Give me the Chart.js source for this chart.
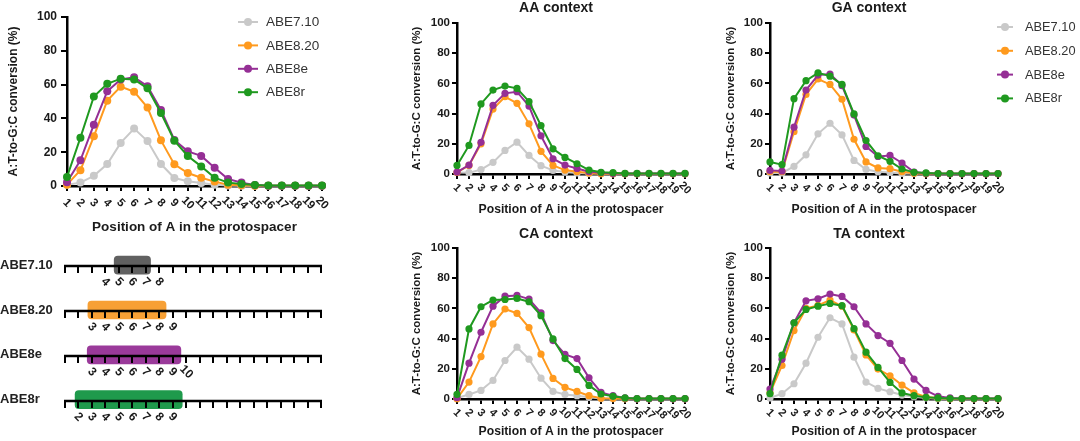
<!DOCTYPE html>
<html>
<head>
<meta charset="utf-8">
<script src="https://cdn.jsdelivr.net/npm/chart.js@4.4.1/dist/chart.umd.min.js"></script>
<style>
  body { margin: 0; background: #fff; width: 1080px; height: 441px; position: relative; overflow: hidden; }
  .box { position: absolute; }
  canvas { display: block; }
</style>
</head>
<body>
<div class="box" style="left:0px;top:0px"><canvas id="pooled" width="330" height="240"></canvas></div>
<div class="box" style="left:0px;top:232px"><canvas id="windows" width="328" height="209"></canvas></div>
<div class="box" style="left:405px;top:0px"><canvas id="aa" width="304" height="220"></canvas></div>
<div class="box" style="left:720px;top:0px"><canvas id="ga" width="360" height="220"></canvas></div>
<div class="box" style="left:405px;top:225px"><canvas id="ca" width="304" height="216"></canvas></div>
<div class="box" style="left:720px;top:225px"><canvas id="ta" width="360" height="216"></canvas></div>
<script>
// positions 1..20 in the protospacer
const positions = [1, 2, 3, 4, 5, 6, 7, 8, 9, 10, 11, 12, 13, 14, 15, 16, 17, 18, 19, 20];
const positionLabels = ['1', '2', '3', '4', '5', '6', '7', '8', '9', '10', '11', '12', '13', '14', '15', '16', '17', '18', '19', '20'];
const seriesNames = ['ABE7.10', 'ABE8.20', 'ABE8e', 'ABE8r'];
const seriesColors = ['#c9c9c9', '#ff9a1e', '#952f95', '#1f991f'];

// all A positions pooled
const pooledABE710 = [0.8, 2, 6, 13, 25.5, 34, 26.6, 13, 4.7, 2.8, 1.8, 0.8, 0.3, 0.2, 0.1, 0.1, 0.1, 0.1, 0.1, 0.1];
const pooledABE820 = [0.8, 9.3, 29.4, 50.5, 58.8, 55.8, 46.4, 27, 12.8, 7.7, 4.9, 2.6, 0.8, 0.4, 0.2, 0.2, 0.2, 0.1, 0.1, 0.1];
const pooledABE8e = [2.2, 15.2, 36.3, 56, 63, 64.3, 59, 45, 27.2, 20.5, 17.8, 10.8, 4.1, 2, 0.6, 0.2, 0.2, 0.2, 0.2, 0.2];
const pooledABE8r = [5.3, 28.6, 53, 60.5, 63.5, 63, 57.8, 43.2, 26.8, 17.8, 11.6, 4.9, 2, 1.2, 0.6, 0.3, 0.3, 0.3, 0.3, 0.3];

// AA context
const aaABE710 = [1, 0.9, 2.9, 7.7, 15.6, 21.1, 12.3, 5.5, 2.4, 1.3, 0.7, 0.3, 0.3, 0.2, 0.2, 0.2, 0.2, 0.2, 0.2, 0.2];
const aaABE820 = [1, 5.7, 20, 43, 51.2, 46.8, 33.2, 15, 5.7, 2.6, 1.5, 0.7, 0.2, 0.2, 0.2, 0.2, 0.2, 0.2, 0.2, 0.2];
const aaABE8e = [1.3, 5.9, 21, 45.5, 53.4, 54.5, 45, 25.3, 10.1, 5.9, 3.7, 1.5, 0.9, 0.3, 0.3, 0.3, 0.3, 0.3, 0.3, 0.3];
const aaABE8r = [5.7, 18.9, 46.4, 55.6, 58.2, 56.7, 47.9, 32.1, 16.7, 11, 6.8, 2.6, 1.1, 0.9, 0.4, 0.4, 0.4, 0.4, 0.4, 0.4];

// GA context
const gaABE710 = [0.7, 0.7, 5, 12.7, 26.6, 33.6, 25.9, 9, 3, 1.5, 1, 0.4, 0.3, 0.3, 0.3, 0.3, 0.3, 0.3, 0.3, 0.3];
const gaABE820 = [1.5, 1.5, 28, 52.7, 62.9, 59.3, 49.5, 23, 8, 4, 3.5, 1.5, 0.5, 0.2, 0.2, 0.2, 0.2, 0.2, 0.2, 0.2];
const gaABE8e = [2.4, 2, 31, 55.6, 65.5, 66.2, 58.5, 39, 18.2, 11.6, 12.3, 7.3, 1.3, 0.5, 0.2, 0.2, 0.2, 0.2, 0.2, 0.2];
const gaABE8r = [8, 6.2, 49.9, 61.8, 67, 64.8, 59.3, 39.8, 22.2, 12.1, 8.4, 3.3, 1.1, 0.7, 0.3, 0.3, 0.3, 0.3, 0.3, 0.3];

// CA context
const caABE710 = [0.7, 3, 5.7, 12.3, 25.5, 34.3, 26.4, 13.8, 5, 3, 2.2, 1.1, 0.3, 0.3, 0.3, 0.3, 0.3, 0.3, 0.3, 0.3];
const caABE820 = [0.2, 11.2, 28.1, 49.7, 59.6, 56.7, 47.3, 29.7, 13.6, 7.7, 5, 2.2, 0.5, 0.3, 0.1, 0.1, 0.1, 0.1, 0.1, 0.1];
const caABE8e = [0.9, 23.7, 44.2, 61.5, 68.1, 68.6, 66.2, 57.1, 38.7, 29.5, 26.8, 14, 4.4, 2.2, 0.7, 0.2, 0.2, 0.2, 0.2, 0.2];
const caABE8r = [3, 46.4, 61.1, 65.5, 65.9, 66.6, 64.4, 55.2, 39.8, 26.8, 19.6, 9, 3.3, 1.8, 0.7, 0.3, 0.3, 0.3, 0.3, 0.3];

// TA context
const taABE710 = [0.7, 3.5, 10.1, 23.7, 40.9, 53.8, 49.7, 27.7, 11.2, 7, 4.8, 2.6, 1.5, 0.7, 0.2, 0.2, 0.2, 0.2, 0.2, 0.2];
const taABE820 = [4, 22.2, 45.3, 60, 62, 65.5, 61.5, 45.7, 29.2, 19.8, 15.4, 9.2, 4, 1.3, 0.7, 0.2, 0.2, 0.2, 0.2, 0.2];
const taABE8e = [6.6, 26.4, 50.5, 65, 66.4, 69.5, 67.9, 61.1, 49.7, 42, 36.9, 25.5, 13.2, 5.7, 1.8, 0.7, 0.3, 0.3, 0.3, 0.3];
const taABE8r = [3.5, 29, 50.5, 59.3, 61.5, 63.3, 61.8, 46.6, 31, 20.9, 11, 4, 2.2, 1.1, 0.7, 0.3, 0.3, 0.3, 0.3, 0.3];

// editing windows (schematic)
const windowRows = ['ABE7.10', 'ABE8.20', 'ABE8e', 'ABE8r'];
const windowBoxStart = [4.65, 2.7, 2.65, 1.75];
const windowBoxEnd = [7.35, 8.5, 9.6, 9.7];
const windowFirst = [4, 3, 3, 2];
const windowLast = [8, 9, 10, 9];
const windowColors = ['#616161', '#f7a035', '#9a3a9a', '#1f9a4c'];

const FONT = '"Liberation Sans", Arial, sans-serif';
Chart.defaults.font.family = FONT;
Chart.defaults.color = '#1a1a1a';

// rotated (clockwise) position labels under the x axis
function tickLabels(offset, size) {
  return {
    id: 'tickLabels',
    afterDraw(chart) {
      const ctx = chart.ctx;
      const x = chart.scales.x;
      ctx.save();
      ctx.font = 'bold ' + size + 'px ' + FONT;
      ctx.fillStyle = '#1a1a1a';
      ctx.textAlign = 'center';
      ctx.textBaseline = 'middle';
      positionLabels.forEach((lab, i) => {
        ctx.save();
        ctx.translate(x.getPixelForValue(positions[i]), chart.chartArea.bottom + offset);
        ctx.rotate(Math.PI / 4);
        ctx.fillText(lab, 0, 0);
        ctx.restore();
      });
      ctx.restore();
    }
  };
}

function panelTitle(text, dx, y) {
  return {
    id: 'panelTitle',
    afterDraw(chart) {
      const ctx = chart.ctx;
      const a = chart.chartArea;
      ctx.save();
      ctx.font = 'bold 14px ' + FONT;
      ctx.fillStyle = '#1a1a1a';
      ctx.textAlign = 'center';
      ctx.textBaseline = 'middle';
      ctx.fillText(text, (a.left + a.right) / 2 + dx, y);
      ctx.restore();
    }
  };
}

function sideLegend(x, y, gap, lineLen, textX, size) {
  return {
    id: 'sideLegend',
    afterDraw(chart) {
      const ctx = chart.ctx;
      ctx.save();
      chart.data.datasets.forEach((ds, i) => {
        const yy = y + i * gap;
        ctx.strokeStyle = ds.borderColor;
        ctx.fillStyle = ds.borderColor;
        ctx.lineWidth = 2;
        ctx.beginPath();
        ctx.moveTo(x, yy);
        ctx.lineTo(x + lineLen, yy);
        ctx.stroke();
        ctx.beginPath();
        ctx.arc(x + lineLen / 2, yy, 4, 0, Math.PI * 2);
        ctx.fill();
        ctx.fillStyle = '#333';
        ctx.font = size + 'px ' + FONT;
        ctx.textAlign = 'left';
        ctx.textBaseline = 'middle';
        ctx.fillText(ds.label, textX, yy + 0.5);
      });
      ctx.restore();
    }
  };
}

function makeLineChart(id, series, cfg) {
  const datasets = seriesNames.map((name, i) => ({
    label: name,
    data: positions.map((p, j) => ({ x: p, y: series[i][j] })),
    borderColor: seriesColors[i],
    backgroundColor: seriesColors[i],
    borderWidth: 2,
    pointRadius: cfg.pointR,
    pointBorderWidth: 0,
    order: 3 - i,
    clip: false
  }));
  const plugins = [tickLabels(cfg.labelOffset, cfg.labelSize)];
  if (cfg.title) plugins.push(panelTitle(cfg.title, -15, cfg.titleY));
  if (cfg.legend) plugins.push(sideLegend.apply(null, cfg.legend));

  return new Chart(document.getElementById(id), {
    type: 'line',
    data: { datasets: datasets },
    plugins: plugins,
    options: {
      responsive: false,
      animation: false,
      layout: { padding: { top: cfg.padTop, right: cfg.padRight, bottom: 0, left: 0 } },
      plugins: { legend: { display: false }, tooltip: { enabled: false } },
      scales: {
        x: {
          type: 'linear', min: 1, max: 20,
          ticks: { display: false, stepSize: 1 },
          grid: { drawOnChartArea: false, color: '#000', lineWidth: 2, tickLength: 5 },
          border: { color: '#000', width: 2.5 },
          title: {
            display: true, text: 'Position of A in the protospacer', color: '#1a1a1a',
            font: { size: cfg.xTitleSize, weight: 'bold' }, padding: { top: 0, bottom: cfg.xTitlePad }
          },
          afterFit: s => { s.height = cfg.xH; }
        },
        y: {
          min: 0, max: 100,
          ticks: { stepSize: 20, color: '#1a1a1a', padding: cfg.tickPad, font: { size: cfg.yTickSize, weight: 'bold' } },
          grid: { drawOnChartArea: false, color: '#000', lineWidth: 2, tickLength: cfg.tickLen },
          border: { color: '#000', width: 2.5 },
          title: {
            display: true, text: 'A:T-to-G:C conversion (%)', color: '#1a1a1a',
            font: { size: cfg.yTitleSize, weight: 'bold' }, padding: { top: cfg.yTitlePad, bottom: 0 }
          },
          afterFit: s => { s.width = cfg.yW; }
        }
      }
    }
  });
}

makeLineChart('pooled', [pooledABE710, pooledABE820, pooledABE8e, pooledABE8r], {
  pointR: 4, padTop: 17, padRight: 8, xH: 54, yW: 67,
  xTitleSize: 13.5, xTitlePad: 4.9, yTitleSize: 12, yTitlePad: 6.8,
  yTickSize: 12, tickLen: 6, tickPad: 4, labelOffset: 17, labelSize: 11.5,
  legend: [238, 22, 23.4, 20, 266, 13.5]
});

const ctxCfg = {
  pointR: 3.6, padTop: 23, xTitleSize: 12.2, yTitleSize: 11.5,
  yTickSize: 11.5, tickLen: 5, tickPad: 2, labelOffset: 14, labelSize: 11
};

makeLineChart('aa', [aaABE710, aaABE820, aaABE8e, aaABE8r], Object.assign({}, ctxCfg, {
  padRight: 24, xH: 46, yW: 52, xTitlePad: 2.7, yTitlePad: 5.1, title: 'AA context', titleY: 8
}));
makeLineChart('ga', [gaABE710, gaABE820, gaABE8e, gaABE8r], Object.assign({}, ctxCfg, {
  padRight: 82, xH: 46, yW: 50, xTitlePad: 2.7, yTitlePad: 3.6, title: 'GA context', titleY: 8,
  legend: [277, 27, 23.8, 16, 305, 12.8]
}));
makeLineChart('ca', [caABE710, caABE820, caABE8e, caABE8r], Object.assign({}, ctxCfg, {
  padRight: 24, xH: 42, yW: 52, xTitlePad: 2, yTitlePad: 5.1, title: 'CA context', titleY: 9
}));
makeLineChart('ta', [taABE710, taABE820, taABE8e, taABE8r], Object.assign({}, ctxCfg, {
  padRight: 82, xH: 42, yW: 50, xTitlePad: 2, yTitlePad: 3.6, title: 'TA context', titleY: 9
}));

// ruler with tick marks and window numbers, drawn over the window boxes
const rulerPlugin = {
  id: 'ruler',
  afterDatasetsDraw(chart) {
    const ctx = chart.ctx;
    const x = chart.scales.x;
    const y = chart.scales.y;
    ctx.save();
    windowRows.forEach((row, r) => {
      const yy = Math.round(y.getPixelForValue(r)) + 1;
      ctx.strokeStyle = '#000';
      ctx.lineWidth = 2.5;
      ctx.beginPath();
      ctx.moveTo(x.getPixelForValue(1) - 1, yy);
      ctx.lineTo(x.getPixelForValue(20) + 1, yy);
      ctx.stroke();
      ctx.lineWidth = 2;
      positions.forEach(p => {
        const px = Math.round(x.getPixelForValue(p));
        ctx.beginPath();
        ctx.moveTo(px, yy);
        ctx.lineTo(px, yy + 7);
        ctx.stroke();
      });
      ctx.fillStyle = '#1a1a1a';
      ctx.font = 'bold 12px ' + FONT;
      ctx.textAlign = 'center';
      ctx.textBaseline = 'middle';
      for (let p = windowFirst[r]; p <= windowLast[r]; p++) {
        ctx.save();
        ctx.translate(x.getPixelForValue(p), yy + 16);
        ctx.rotate(Math.PI / 4);
        ctx.fillText(positionLabels[p - 1], 0, 0);
        ctx.restore();
      }
    });
    ctx.restore();
  }
};

new Chart(document.getElementById('windows'), {
  type: 'bar',
  data: {
    labels: windowRows,
    datasets: [{
      data: windowRows.map((r, i) => [windowBoxStart[i], windowBoxEnd[i]]),
      backgroundColor: windowColors,
      borderRadius: 4,
      borderSkipped: false,
      barThickness: 18
    }]
  },
  plugins: [rulerPlugin],
  options: {
    indexAxis: 'y',
    responsive: false,
    animation: false,
    layout: { padding: { top: 6, right: 7, bottom: 19, left: 0 } },
    plugins: { legend: { display: false }, tooltip: { enabled: false } },
    scales: {
      x: { type: 'linear', min: 1, max: 20, display: false },
      y: {
        grid: { display: false },
        border: { display: false },
        ticks: { crossAlign: 'far', color: '#222', font: { size: 13, weight: 'bold' } },
        afterFit: s => { s.width = 65; }
      }
    }
  }
});
</script>
</body>
</html>
